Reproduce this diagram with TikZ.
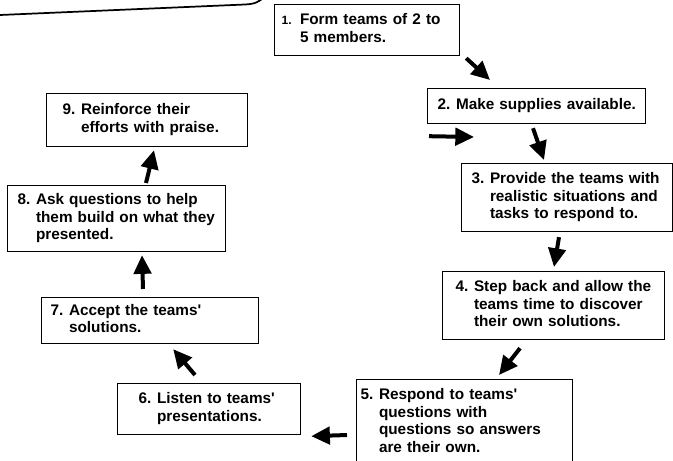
\documentclass[tikz,border=0pt]{standalone}
\usepackage{fontspec}
\setmainfont{Liberation Sans}
\usetikzlibrary{arrows.meta}

\newcommand\tasktext[2]{\begin{tabular}[t]{@{}l@{}l@{}}\makebox[1.2em][l]{#1}&\begin{tabular}[t]{@{}l@{}}#2\end{tabular}\end{tabular}}
\newcommand\q{\textquotesingle}

\tikzset{
  taskbox/.style={draw, line width=0.9pt, anchor=north west, inner ysep=1pt,
    font=\fontsize{11.5pt}{13.2pt}\selectfont\bfseries},
  flow/.style={-{Triangle[length=14pt,width=13pt]}, line width=3pt}
}

\begin{document}
\begin{tikzpicture}[x=0.75pt,y=-0.75pt]
\useasboundingbox (0,0) rectangle (673,460);
\clip (0,0) rectangle (673,460);
\draw[line width=1.3pt] (0,15) -- (245,4.5) .. controls (255,4) and (259,2) .. (264,-3);

\node[taskbox, minimum width=138.75pt, minimum height=38.25pt, inner xsep=5.25pt, text width=128.25pt] (s1) at (274,4)
  {\tasktext{\small 1.}{Form teams of 2 to\\5 members.}};
\node[taskbox, minimum width=163.5pt, minimum height=26.25pt, inner xsep=7.5pt, text width=148.5pt] (s2) at (427,88)
  {\tasktext{2.}{Make supplies available.}};
\node[taskbox, minimum width=158.25pt, minimum height=51pt, inner xsep=7.5pt, text width=143.25pt] (s3) at (461,163)
  {\tasktext{3.}{Provide the teams with\\realistic situations and\\tasks to respond to.}};
\node[taskbox, minimum width=166.5pt, minimum height=51pt, inner xsep=9.75pt, text width=147pt] (s4) at (442,271)
  {\tasktext{4.}{Step back and allow the\\teams time to discover\\their own solutions.}};
\node[taskbox, minimum width=162pt, minimum height=64.5pt, inner xsep=3pt, text width=156pt] (s5) at (356,379)
  {\tasktext{5.}{Respond to teams\q\\questions with\\questions so answers\\are their own.}};
\node[taskbox, minimum width=137.25pt, minimum height=38.25pt, inner xsep=15.75pt, text width=105.75pt] (s6) at (117,383)
  {\tasktext{6.}{Listen to teams\q\\presentations.}};
\node[taskbox, minimum width=162.75pt, minimum height=34.5pt, inner xsep=6.75pt, text width=149.25pt] (s7) at (41,297)
  {\tasktext{7.}{Accept the teams\q\\solutions.}};
\node[taskbox, minimum width=163.5pt, minimum height=49.5pt, inner xsep=7.5pt, text width=148.5pt] (s8) at (7,185)
  {\tasktext{8.}{Ask questions to help\\them build on what they\\presented.}};
\node[taskbox, minimum width=150.75pt, minimum height=39.75pt, inner xsep=12pt, text width=126.75pt] (s9) at (46,93)
  {\tasktext{9.}{Reinforce their\\efforts with praise.}};

\draw[flow] ([shift={(6,2)}]s1.south east) -- ([shift={(63,-8)}]s2.north west);
\draw[flow] ([shift={(2,12)}]s2.south west) -- ([shift={(13,-26)}]s3.north west);
\draw[flow] ([shift={(106,4)}]s2.south west) -- ([shift={(83,-3)}]s3.north west);
\draw[flow] ([shift={(98,5)}]s3.south west) -- ([shift={(112,-4)}]s4.north west);
\draw[flow] ([shift={(78,8)}]s4.south west) -- ([shift={(143,-4)}]s5.north west);
\draw[flow] ([shift={(-9,56)}]s5.north west) -- ([shift={(10,1)}]s6.south east);
\draw[flow] ([shift={(78,-8)}]s6.north west) -- ([shift={(-86,5)}]s7.south east);
\draw[flow] ([shift={(102,-8)}]s7.north west) -- ([shift={(135,3)}]s8.south west);
\draw[flow] ([shift={(139,-2)}]s8.north west) -- ([shift={(108,3)}]s9.south west);
\end{tikzpicture}
\end{document}
